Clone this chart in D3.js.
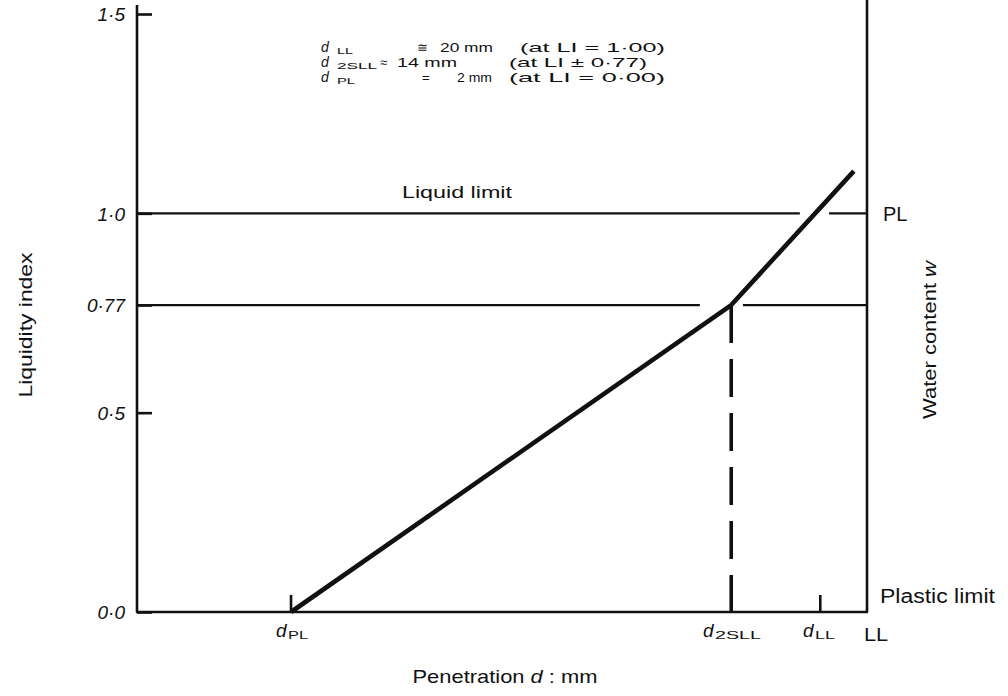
<!DOCTYPE html>
<html><head><meta charset="utf-8">
<script src="https://cdn.jsdelivr.net/npm/d3@7"></script>
<style>
body{margin:0;background:#fff}
svg{display:block}
text{font-family:"Liberation Sans",Arial,Helvetica,sans-serif;fill:#111}
</style></head><body>
<svg id="c" width="1008" height="696"></svg>
<script>
// ---------- data ----------
// Liquidity index ticks
const yTickValues = [0, 0.5, 0.77, 1.0, 1.5];
const yTickLabels = ["0·0", "0·5", "0·77", "1·0", "1·5"];
// Penetration is drawn schematically: position as % of axis length
const curveD  = [21.1, 81.4, 98.2];
const curveLI = [0, 0.77, 1.106];
// reference lines (LI) and the gap left where the curve crosses them (% of axis)
const refLI      = [1.0, 0.77];
const refGapFrom = [90.8, 77.1];
const refGapTo   = [94.8, 83.0];
// penetration markers
const markerSub = ["PL", "2SLL", "LL"];
const markerD   = [21.1, 81.4, 93.6];
const markerMM  = [2, 14, 20];
const markerLI  = ["0·00", "0·77", "1·00"];
// annotation rows (top-down order: LL, 2SLL, PL)
const noteOrder = [2, 1, 0];
const noteRel   = ["≅", "≈", "="];
const noteOp    = ["=", "±", "="];

// ---------- layout ----------
const svg = d3.select("#c");
const x = d3.scaleLinear().domain([0, 100]).range([137, 867]);
const y = d3.scaleLinear().domain([0, 1.5]).range([612, 14]);
const ink = "#111";

// frame
svg.append("path").attr("stroke", ink).attr("stroke-width", 2.6).attr("fill", "none")
  .attr("stroke-linejoin", "round")
  .attr("d", `M${x(0)},${y(1.5) - 9}L${x(0)},${y(0)}L${x(100)},${y(0)}L${x(100)},0`);

// y axis
const yAxis = d3.axisLeft(y).tickValues(yTickValues)
  .tickFormat((d, i) => yTickLabels[i])
  .tickSizeInner(-15).tickSizeOuter(0).tickPadding(12);
const ya = svg.append("g").attr("transform", `translate(${x(0)},0)`).call(yAxis);
ya.select(".domain").remove();
ya.selectAll(".tick line").attr("stroke", ink).attr("stroke-width", 2.6);
ya.selectAll(".tick text").attr("font-size", 19).attr("font-style", "italic")
  .attr("fill", ink).attr("dy", "0.36em");

// reference lines with gaps
refLI.forEach((li, i) => {
  [[0, refGapFrom[i]], [refGapTo[i], 100]].forEach(seg => {
    svg.append("line").attr("x1", x(seg[0])).attr("x2", x(seg[1]))
      .attr("y1", y(li)).attr("y2", y(li))
      .attr("stroke", ink).attr("stroke-width", 2.2);
  });
});

// curve
const line = d3.line().x((d, i) => x(curveD[i])).y((d, i) => y(curveLI[i]));
svg.append("path").datum(curveD).attr("d", line)
  .attr("fill", "none").attr("stroke", ink).attr("stroke-width", 4.6)
  .attr("stroke-linejoin", "round");

// dashed drop line at d2SLL
svg.append("line").attr("x1", x(markerD[1])).attr("x2", x(markerD[1]))
  .attr("y1", y(0.77)).attr("y2", y(0))
  .attr("stroke", ink).attr("stroke-width", 3.6).attr("stroke-dasharray", "38,16");

// small ticks at dPL and dLL
[0, 2].forEach(i => {
  svg.append("line").attr("x1", x(markerD[i])).attr("x2", x(markerD[i]))
    .attr("y1", y(0)).attr("y2", y(0) - 17)
    .attr("stroke", ink).attr("stroke-width", 2.6);
});

// ---------- text helpers ----------
function txt(str, px, py, size, opts = {}) {
  const t = svg.append("text").attr("x", px).attr("y", py).attr("font-size", size).text(str);
  if (opts.italic) t.attr("font-style", "italic");
  if (opts.anchor) t.attr("text-anchor", opts.anchor);
  if (opts.len) t.attr("textLength", opts.len).attr("lengthAdjust", "spacingAndGlyphs");
  if (opts.rotate) t.attr("transform", `rotate(-90,${px},${py})`);
  return t;
}
// append an absolutely placed piece to a text element
function piece(t, str, px, py, size, opts = {}) {
  const s = t.append("tspan").attr("x", px).attr("y", py).attr("font-size", size).text(str);
  if (opts.italic) s.attr("font-style", "italic");
  if (opts.len) s.attr("textLength", opts.len).attr("lengthAdjust", "spacingAndGlyphs");
  return s;
}

// bottom marker labels (d with subscript, one text each)
const botX = [276, 703, 803];
const botSubLen = [20, 46, 20];
markerSub.forEach((s, i) => {
  const t = svg.append("text");
  piece(t, "d", botX[i], 637, 19, {italic: true});
  piece(t, s, botX[i] + 12, 639, 11, {len: botSubLen[i]});
});
txt("LL", 864, 641, 19, {len: 24});

// annotation block: one text element
const rowY = [52, 67, 82];
const relX = [417, 380, 422];
const valX = [440, 397, 457];
const valLen = [53, 60, 35];
const condX = [520, 509, 509];
const condLen = [145, 138, 156];
const annSubLen = [16, 40, 18];
const note = svg.append("text");
noteOrder.forEach((m, r) => {
  piece(note, "d", 321, rowY[r], 14, {italic: true});
  piece(note, markerSub[m], 337, rowY[r] + 2, 9, {len: annSubLen[r]});
  piece(note, noteRel[r], relX[r], rowY[r], 13);
  piece(note, `${markerMM[m]} mm`, valX[r], rowY[r], 13, {len: valLen[r]});
  piece(note, `(at LI ${noteOp[r]} ${markerLI[m]})`, condX[r], rowY[r], 13, {len: condLen[r]});
});

// labels
txt("Liquid limit", 402, 198, 16, {len: 110});
txt("PL", 883, 221, 20);
txt("Plastic limit", 880, 603, 20, {len: 115});
txt("Liquidity index", 32, 325, 19, {anchor: "middle", len: 145, rotate: true});
const wc = txt("Water content ", 936, 340, 19, {anchor: "middle", rotate: true, len: 158});
wc.append("tspan").attr("font-style", "italic").text("w");
const pen = txt("Penetration ", 505, 683, 19, {anchor: "middle", len: 185});
pen.append("tspan").attr("font-style", "italic").text("d");
pen.append("tspan").text(" : mm");
</script>
</body></html>
